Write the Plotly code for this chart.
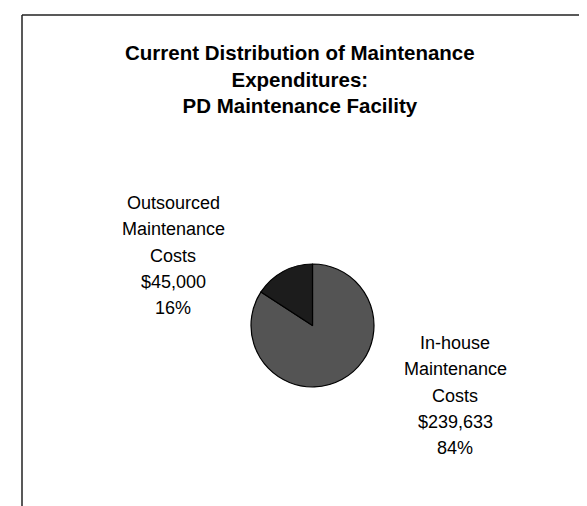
import plotly.graph_objects as go

# ---- data ----
categories = ["Outsourced Maintenance Costs", "In-house Maintenance Costs"]
costs = [45000, 239633]
slice_colors = ["#1c1c1c", "#545454"]
title_lines = ["Current Distribution of Maintenance", "Expenditures:", "PD Maintenance Facility"]

W, H = 587, 506
FONT = "Liberation Sans, Arial, Helvetica, sans-serif"

def px(x):
    return x / W

def py(y):
    return 1 - y / H

total = sum(costs)
pcts = [round(100 * v / total) for v in costs]

fig = go.Figure()
# In-house drawn first, clockwise from 12 o'clock, so Outsourced sits just left of 12 o'clock
fig.add_trace(go.Pie(
    labels=categories[::-1],
    values=costs[::-1],
    sort=False,
    direction="clockwise",
    rotation=0,
    textinfo="none",
    hoverinfo="label+value+percent",
    marker=dict(colors=slice_colors[::-1], line=dict(color="#000000", width=1.2)),
    domain=dict(x=[px(243), px(366)], y=[py(379), py(256)]),
    showlegend=False,
))

annotations = []
# title
annotations.append(dict(
    text="<b>" + "<br>".join(title_lines) + "</b>",
    x=px(292), y=py(71), xref="paper", yref="paper",
    xanchor="center", yanchor="middle", showarrow=False, align="center",
    font=dict(family=FONT, size=20.5, color="#000000"),
))

# slice labels (one annotation per line)
label_pos = [(165, 195), (447, 335)]
spacing = 26.3
for cat, val, pct, (cx, cy) in zip(categories, costs, pcts, label_pos):
    lines = cat.split(" ") + ["${:,}".format(val), "{}%".format(pct)]
    for i, ln in enumerate(lines):
        annotations.append(dict(
            text=ln, x=px(cx), y=py(cy + i * spacing), xref="paper", yref="paper",
            xanchor="center", yanchor="middle", showarrow=False,
            font=dict(family=FONT, size=18, color="#000000"),
        ))

shapes = [
    dict(type="line", xref="paper", yref="paper", x0=px(14), y0=py(7), x1=1, y1=py(7),
         line=dict(color="#222222", width=1.5)),
    dict(type="line", xref="paper", yref="paper", x0=px(14), y0=py(7), x1=px(14), y1=py(500),
         line=dict(color="#222222", width=1.5)),
]

fig.update_layout(
    width=W, height=H,
    margin=dict(l=0, r=0, t=0, b=0),
    paper_bgcolor="#ffffff",
    plot_bgcolor="#ffffff",
    annotations=annotations,
    shapes=shapes,
)

fig.write_html("out.html")
